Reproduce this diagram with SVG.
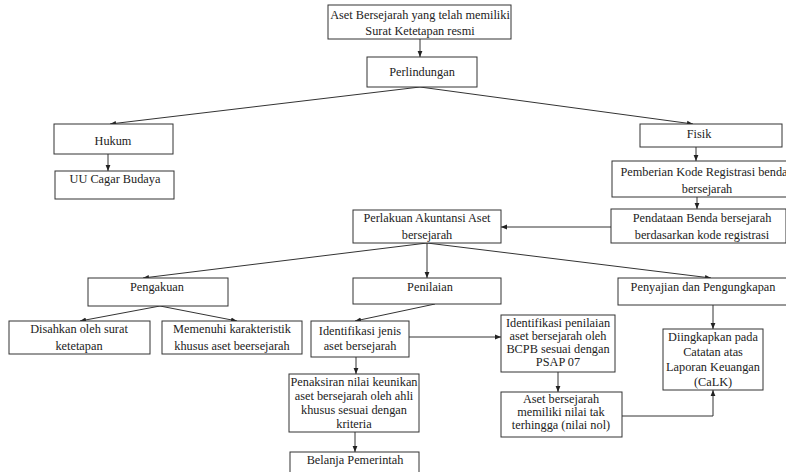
<svg xmlns="http://www.w3.org/2000/svg" width="786" height="472" viewBox="0 0 786 472">
<defs>
<marker id="ah" viewBox="0 0 10 10" refX="10" refY="5" markerWidth="6" markerHeight="6" orient="auto-start-reverse">
<path d="M0,1 L10,5 L0,9 z" fill="#222"/>
</marker>
<style>
.box{fill:#fff;stroke:#333;stroke-width:1}
text{font-family:'Liberation Serif',serif;font-size:12.3px;fill:#222;text-anchor:middle}
.c{fill:none;stroke:#333;stroke-width:1;marker-end:url(#ah)}
</style>
</defs>
<rect width="786" height="472" fill="#fff"/>
<g id="connectors">
<path class="c" d="M420,39 L420,57"/>
<path class="c" d="M420,87 L110,124"/>
<path class="c" d="M420,87 L693,124"/>
<path class="c" d="M108,154 L108,171"/>
<path class="c" d="M696,147 L696,161"/>
<path class="c" d="M697,197 L697,209"/>
<path class="c" d="M611,227 L501,227"/>
<path class="c" d="M427,243 L143,278"/>
<path class="c" d="M427,243 L427,278"/>
<path class="c" d="M427,243 L711,278"/>
<path class="c" d="M160,306 L80,321"/>
<path class="c" d="M160,306 L237,321"/>
<path class="c" d="M435,304 L355,321"/>
<path class="c" d="M409,337 L501,337"/>
<path class="c" d="M356,357 L356,374"/>
<path class="c" d="M355,432 L355,452"/>
<path class="c" d="M558,372 L558,392"/>
<path class="c" d="M622,416 L713,416 L713,390"/>
<path class="c" d="M713,305 L713,329"/>
</g>
<g font-family="Liberation Serif, serif">
<g id="n1"><rect class="box" x="328" y="5" width="183" height="34"/><text x="420" y="19">Aset Bersejarah yang telah memiliki</text><text x="420" y="35">Surat Ketetapan resmi</text></g>
<g id="n2"><rect class="box" x="367" y="57" width="110" height="30"/><text x="422" y="76">Perlindungan</text></g>
<g id="n3"><rect class="box" x="54" y="124" width="119" height="30"/><text x="113" y="145">Hukum</text></g>
<g id="n4"><rect class="box" x="55" y="171" width="119" height="28"/><text x="115" y="183">UU Cagar Budaya</text></g>
<g id="n5"><rect class="box" x="640" y="124" width="142" height="23"/><text x="699" y="138">Fisik</text></g>
<g id="n6"><rect class="box" x="612" y="161" width="180" height="36"/><text x="704" y="176">Pemberian Kode Registrasi benda</text><text x="707" y="193">bersejarah</text></g>
<g id="n7"><rect class="box" x="611" y="209" width="175" height="34"/><text x="702" y="222">Pendataan Benda bersejarah</text><text x="702" y="239">berdasarkan kode registrasi</text></g>
<g id="n8"><rect class="box" x="353" y="210" width="148" height="33"/><text x="427" y="222">Perlakuan Akuntansi Aset</text><text x="427" y="239">bersejarah</text></g>
<g id="n9"><rect class="box" x="88" y="278" width="140" height="28"/><text x="157" y="291">Pengakuan</text></g>
<g id="n10"><rect class="box" x="353" y="278" width="148" height="26"/><text x="430" y="291">Penilaian</text></g>
<g id="n11"><rect class="box" x="618" y="278" width="172" height="27"/><text x="703" y="291">Penyajian dan Pengungkapan</text></g>
<g id="n12"><rect class="box" x="9" y="321" width="141" height="33"/><text x="79" y="333">Disahkan oleh surat</text><text x="79" y="350">ketetapan</text></g>
<g id="n13"><rect class="box" x="162" y="321" width="140" height="33"/><text x="232" y="333">Memenuhi karakteristik</text><text x="232" y="350">khusus aset beersejarah</text></g>
<g id="n14"><rect class="box" x="311" y="321" width="98" height="36"/><text x="360" y="335">Identifikasi jenis</text><text x="360" y="350">aset bersejarah</text></g>
<g id="n15"><rect class="box" x="501" y="315" width="114" height="57"/><text x="558" y="327">Identifikasi penilaian</text><text x="558" y="340">aset bersejarah oleh</text><text x="558" y="353">BCPB sesuai dengan</text><text x="558" y="366">PSAP 07</text></g>
<g id="n16"><rect class="box" x="501" y="392" width="121" height="45"/><text x="561" y="403">Aset bersejarah</text><text x="561" y="416">memiliki nilai tak</text><text x="561" y="429">terhingga (nilai nol)</text></g>
<g id="n17"><rect class="box" x="663" y="329" width="100" height="61"/><text x="713" y="341">Diingkapkan pada</text><text x="713" y="356">Catatan atas</text><text x="713" y="371">Laporan Keuangan</text><text x="713" y="386">(CaLK)</text></g>
<g id="n18"><rect class="box" x="289" y="374" width="130" height="58"/><text x="354" y="386">Penaksiran nilai keunikan</text><text x="354" y="400">aset bersejarah oleh ahli</text><text x="354" y="414">khusus sesuai dengan</text><text x="354" y="428">kriteria</text></g>
<g id="n19"><rect class="box" x="290" y="452" width="129" height="24"/><text x="355" y="464">Belanja Pemerintah</text></g>
</g>
</svg>
